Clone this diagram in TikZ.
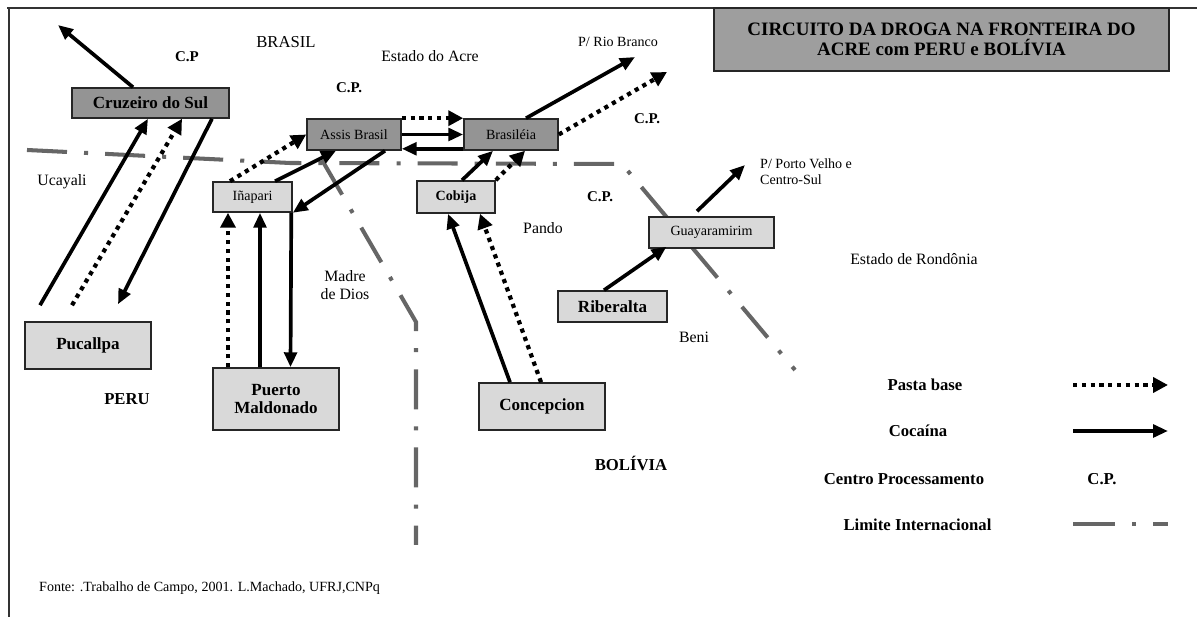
\documentclass[tikz,border=0pt]{standalone}
\usepackage{fontspec}
\setmainfont{Liberation Serif}
\usetikzlibrary{arrows.meta,
                positioning}

\begin{document}
\begin{tikzpicture}[
x=0.02cm, y=-0.02cm,
    box/.style = {rectangle, draw=black!85, line width=0.9pt,
                  inner sep=0pt, align=center,
                  font=\fontsize{9.7}{10.8}\selectfont\bfseries},
   dark/.style = {box, fill=black!42},
  light/.style = {box, fill=gray!30},
    fin/.style = {font=\fontsize{8}{9}\selectfont},
    reg/.style = {font=\fontsize{9}{10.2}\selectfont},
     cp/.style = {font=\fontsize{8.5}{10}\selectfont\bfseries},
    leg/.style = {font=\fontsize{9.5}{11}\selectfont\bfseries},
    coc/.style = {line width=2.1pt, -{Triangle[length=8.5pt,width=7.2pt]}},
  pasta/.style = {line width=2.4pt, dash pattern=on 2.4pt off 2.6pt,
                  -{Triangle[length=8.5pt,width=8.5pt]}},
 limite/.style = {line width=2.3pt, draw=black!60,
                  dash pattern=on 22.8pt off 9.7pt on 2.3pt off 9.7pt},
                        ]
\useasboundingbox (0,0) rectangle (1197,617);
\draw[line width=0.9pt, black!80] (7,8) -- (1197,8) (9,8) -- (9,617);

% titulo
\node[box, fill=black!38, minimum width=9.1cm, minimum height=1.26cm,
      font=\fontsize{10.8}{11.6}\selectfont\bfseries] (titulo) at (941.5,39.5)
      {CIRCUITO DA DROGA NA FRONTEIRA DO\\ ACRE com PERU e BOLÍVIA};

% limites internacionais
\draw[limite] (27,150) -- (290,163) -- (622,164) -- (795,370);
\draw[limite] (322,160) -- (416,322) -- (416,545);

% cidades
\node[dark, minimum width=3.14cm, minimum height=0.6cm]  (cruzeiro)  at (150.5,103) {Cruzeiro do Sul};
\node[dark, minimum width=1.88cm, minimum height=0.62cm, fin] (assis)     at (354,134.5) {Assis Brasil};
\node[dark, minimum width=1.88cm, minimum height=0.62cm, fin] (brasileia) at (511,134.5) {Brasiléia};
\node[light, minimum width=1.58cm, minimum height=0.6cm, fin] (inapari)   at (252.5,197) {Iñapari};
\node[light, minimum width=1.56cm, minimum height=0.64cm,
      font=\fontsize{8}{9}\selectfont\bfseries]               (cobija)    at (456,197) {Cobija};
\node[light, minimum width=2.5cm, minimum height=0.62cm, fin] (guaya)     at (711.5,232.5) {Guayaramirim};
\node[light, minimum width=2.18cm, minimum height=0.62cm]     (riberalta) at (612.5,306.5) {Riberalta};
\node[light, minimum width=2.52cm, minimum height=0.94cm]     (concepcion) at (542,406.5) {Concepcion};
\node[light, minimum width=2.52cm, minimum height=0.94cm]     (pucallpa)  at (88,345.5) {Pucallpa};
\node[light, minimum width=2.52cm, minimum height=1.24cm]     (maldonado) at (276,399) {Puerto\\ Maldonado};

% extremos livres
\coordinate (noroeste)   at (58,25);
\coordinate (riobranco)  at (635,57);
\coordinate (nordeste)   at (667,72);
\coordinate (portovelho) at (745,165);

% rotas
\draw[coc]   ([shift={(-17.5,0)}]cruzeiro.north) -- (noroeste);
\draw[coc]   ([shift={(-48,-16)}]pucallpa.north) -- ([shift={(-2.5,0)}]cruzeiro.south);
\draw[pasta] ([shift={(-16,-16)}]pucallpa.north) -- ([shift={(31.5,0)}]cruzeiro.south);
\draw[coc]   ([shift={(61.5,0)}]cruzeiro.south) -- ([shift={(30,-17)}]pucallpa.north);
\draw[pasta] ([shift={(-22.5,0)}]inapari.north) -- (assis.west);
\draw[coc]   ([shift={(22.5,0)}]inapari.north) -- ([shift={(-18,0)}]assis.south);
\draw[coc]   ([shift={(31,0)}]assis.south) -- (inapari.south east);
\draw[pasta] ([shift={(-48,0)}]maldonado.north) -- ([shift={(-24.5,0)}]inapari.south);
\draw[coc]   ([shift={(-16,0)}]maldonado.north) -- ([shift={(7.5,0)}]inapari.south);
\draw[coc]   ([shift={(-1.5,0)}]inapari.south east) -- ([shift={(14.5,0)}]maldonado.north);
\draw[pasta] (assis.north east) -- (brasileia.north west);
\draw[coc]   (assis.east) -- (brasileia.west);
\draw[coc]   ([shift={(0,-2)}]brasileia.south west) -- ([shift={(0,-2)}]assis.south east);
\draw[coc]   ([shift={(15,0)}]brasileia.north) -- (riobranco);
\draw[pasta] (brasileia.east) -- (nordeste);
\draw[coc]   ([shift={(6,0)}]cobija.north) -- ([shift={(-18,0)}]brasileia.south);
\draw[pasta] (cobija.north east) -- ([shift={(14,0)}]brasileia.south);
\draw[coc]   ([shift={(-32,0)}]concepcion.north) -- ([shift={(-8,0)}]cobija.south);
\draw[pasta] ([shift={(-1,0)}]concepcion.north) -- ([shift={(24,0)}]cobija.south);
\draw[coc]   ([shift={(-8.5,0)}]riberalta.north) -- ([shift={(-45,-2)}]guaya.south);
\draw[coc]   ([shift={(-14.5,-5)}]guaya.north) -- (portovelho);

% nomes
\node[reg, font=\fontsize{9.5}{11}\selectfont] (brasil) at (286,42) {BRASIL};
\node[reg] (acre)     at (430,56)  {Estado do Acre};
\node[reg] (ucayali)  at (62,182)  {Ucayali};
\node[reg] (pando)    at (543,228) {Pando};
\node[reg, align=center] (madre) at (345,285) {Madre\\ de Dios};
\node[reg] (beni)     at (694,337) {Beni};
\node[reg] (rondonia) at (914,259) {Estado de Rondônia};
\node[fin] (rb)       at (618,42)  {P/ Rio Branco};
\node[fin, align=left, anchor=west] (pv) at (754,172) {P/ Porto Velho e\\ Centro-Sul};
\node[leg] (peru)     at (127,399) {PERU};
\node[leg] (bolivia)  at (631,463) {BOLÍVIA};
\node[cp]  (cp-0)     at (187,57)  {C.P};
\foreach \x/\y [count=\j] in {349/88, 647/119, 600/197}
    \node[cp] (cp-\j) at (\x,\y) {C.P.};
\node[fin, anchor=west] (fonte) at (33,588) {Fonte: .Trabalho de Campo, 2001. L.Machado, UFRJ,CNPq};

% legenda
\node[leg] (l-pasta)  at (925,385)   {Pasta base};
\node[leg] (l-coc)    at (918,431)   {Cocaína};
\node[leg] (l-centro) at (904,479)   {Centro Processamento};
\node[leg] (l-cp)     at (1102,479)  {C.P.};
\node[leg] (l-limite) at (917.5,525) {Limite Internacional};
\coordinate (a1) at (1073,385); \coordinate (a2) at (1168,385);
\coordinate (b1) at (1073,431); \coordinate (b2) at (1168,431);
\coordinate (c1) at (1073,524); \coordinate (c2) at (1168,524);
\draw[pasta] (a1) -- (a2);
\draw[coc]   (b1) -- (b2);
\draw[limite, dash pattern=on 24pt off 9.7pt on 2.3pt off 9.7pt] (c1) -- (c2);
\end{tikzpicture}
\end{document}
